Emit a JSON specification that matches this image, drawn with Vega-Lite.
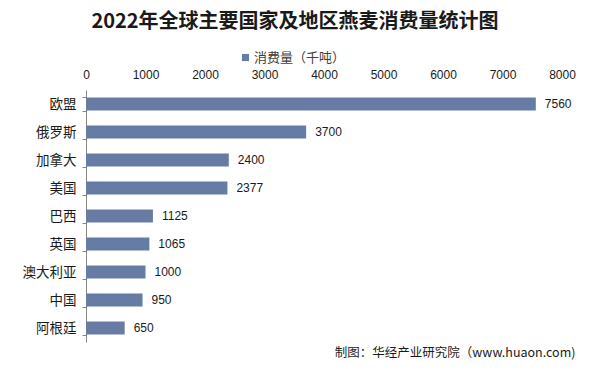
{
  "$schema": "https://vega.github.io/schema/vega-lite/v6.json",
  "width": 476,
  "height": 252,
  "autosize": {"type": "none"},
  "padding": {"left": 86, "top": 90, "right": 30, "bottom": 30},
  "background": "white",
  "config": {"view": {"stroke": null}, "font": "Liberation Sans"},
  "title": {
    "text": "2022年全球主要国家及地区燕麦消费量统计图",
    "font": "Noto Sans CJK SC",
    "fontSize": 20,
    "fontWeight": "bold",
    "color": "#1a1a1a",
    "anchor": "middle",
    "dx": -29,
    "offset": 19
  },
  "data": {
    "values": [
      {"region": "欧盟", "value": 7560, "series": "消费量（千吨）"},
      {"region": "俄罗斯", "value": 3700, "series": "消费量（千吨）"},
      {"region": "加拿大", "value": 2400, "series": "消费量（千吨）"},
      {"region": "美国", "value": 2377, "series": "消费量（千吨）"},
      {"region": "巴西", "value": 1125, "series": "消费量（千吨）"},
      {"region": "英国", "value": 1065, "series": "消费量（千吨）"},
      {"region": "澳大利亚", "value": 1000, "series": "消费量（千吨）"},
      {"region": "中国", "value": 950, "series": "消费量（千吨）"},
      {"region": "阿根廷", "value": 650, "series": "消费量（千吨）"}
    ]
  },
  "encoding": {
    "y": {
      "field": "region",
      "type": "nominal",
      "sort": null,
      "scale": {"paddingInner": 0.53, "paddingOuter": 0.265},
      "axis": {
        "title": null,
        "tickBand": "extent",
        "tickSize": 4,
        "tickColor": "#868686",
        "domainColor": "#868686",
        "labelFont": "Noto Sans CJK SC",
        "labelFontSize": 13.5,
        "labelColor": "#1a1a1a",
        "labelPadding": 6
      }
    }
  },
  "layer": [
    {
      "mark": {"type": "bar", "color": "#677ca4"},
      "encoding": {
        "x": {
          "field": "value",
          "type": "quantitative",
          "scale": {"domain": [0, 8000], "nice": false},
          "axis": {
            "orient": "top",
            "title": null,
            "values": [0, 1000, 2000, 3000, 4000, 5000, 6000, 7000, 8000],
            "format": "d",
            "grid": false,
            "domain": false,
            "ticks": false,
            "labelFlush": false,
            "labelFontSize": 12,
            "labelColor": "#1a1a1a",
            "labelPadding": 9
          }
        },
        "color": {
          "field": "series",
          "type": "nominal",
          "scale": {"range": ["#677ca4"]},
          "legend": {
            "title": null,
            "orient": "none",
            "legendX": 153,
            "legendY": -39,
            "symbolType": "square",
            "symbolSize": 50,
            "symbolStrokeWidth": 0,
            "labelFont": "Noto Sans CJK SC",
            "labelFontSize": 13,
            "labelColor": "#404040",
            "labelOffset": 2
          }
        }
      }
    },
    {
      "mark": {"type": "text", "align": "left", "baseline": "middle", "dx": 9, "fontSize": 12, "color": "#1a1a1a"},
      "encoding": {
        "x": {
          "field": "value",
          "type": "quantitative",
          "scale": {"domain": [0, 8000], "nice": false},
          "axis": {
            "orient": "bottom",
            "labels": false,
            "ticks": false,
            "domain": false,
            "grid": false,
            "title": "制图：华经产业研究院（www.huaon.com)",
            "titleFont": "Noto Sans CJK SC",
            "titleFontSize": 12.5,
            "titleFontWeight": "normal",
            "titleColor": "#1a1a1a",
            "titleAnchor": "end",
            "titleAlign": "right",
            "titleX": 489,
            "titleY": 10,
            "titleBaseline": "middle"
          }
        },
        "text": {"field": "value", "type": "quantitative"}
      }
    }
  ],
  "resolve": {"axis": {"x": "independent"}}
}
